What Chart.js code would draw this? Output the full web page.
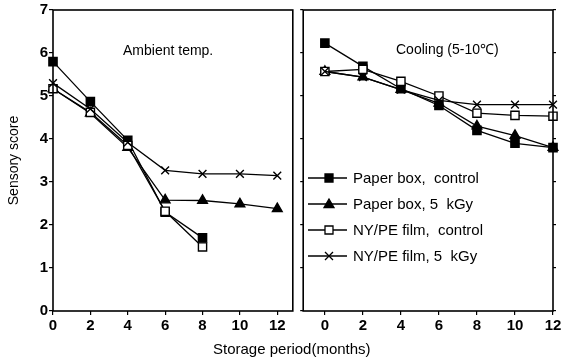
<!DOCTYPE html>
<html>
<head>
<meta charset="utf-8">
<script src="https://cdn.jsdelivr.net/npm/chart.js@4"></script>
<style>
  body { margin: 0; background: #fff; width: 564px; height: 358px; position: relative; overflow: hidden;
         font-family: "Liberation Sans", Arial, sans-serif; }
  canvas { position: absolute; top: 0; }
  #left { left: 0; }
  #right { left: 296px; }
  .lbl { position: absolute; color: #000; white-space: nowrap; font-size: 14px; }
</style>
</head>
<body>
<canvas id="left" width="300" height="358"></canvas>
<canvas id="right" width="268" height="358"></canvas>
<div class="lbl" style="left:123px;top:42px">Ambient temp.</div>
<div class="lbl" style="left:396px;top:39px">Cooling (5-10℃)</div>
<div class="lbl" style="left:213px;top:340px;font-size:15px">Storage period(months)</div>
<script>
const months = [0, 2, 4, 6, 8, 10, 12];
const monthTicks = [0, 2, 4, 6, 8, 10, 12];
const scoreTicks = [0, 1, 2, 3, 4, 5, 6, 7];
const seriesNames = ['Paper box,  control', 'Paper box, 5  kGy', 'NY/PE film,  control', 'NY/PE film, 5  kGy'];

// ambient temp.
const ambientPaperControl = [5.8, 4.87, 3.97, 2.3, 1.7, null, null];
const ambientPaper5kGy   = [5.17, 4.6, 3.8, 2.58, 2.57, 2.49, 2.38];
const ambientFilmControl = [5.17, 4.62, 3.85, 2.32, 1.49, null, null];
const ambientFilm5kGy    = [5.3, 4.7, 3.92, 3.27, 3.19, 3.19, 3.15];

// cooling (5-10 C)
const coolingPaperControl = [6.23, 5.69, 5.17, 4.78, 4.2, 3.9, 3.8];
const coolingPaper5kGy    = [5.57, 5.44, 5.15, 4.83, 4.3, 4.08, 3.8];
const coolingFilmControl  = [5.57, 5.62, 5.34, 5.0, 4.6, 4.55, 4.53];
const coolingFilm5kGy     = [5.57, 5.44, 5.15, 4.9, 4.8, 4.8, 4.8];

const styles = [
    { pointStyle: 'rect', pointRadius: 5.8, pointBackgroundColor: '#000' },
    { pointStyle: 'triangle', pointRadius: 5.6, pointBackgroundColor: '#000' },
    { pointStyle: 'rect', pointRadius: 5.8, pointBackgroundColor: '#fff' },
    { pointStyle: 'crossRot', pointRadius: 5.5, pointBackgroundColor: '#000' }
];

function makeDatasets(list) {
    return list.map((vals, i) => ({
        label: seriesNames[i],
        data: months.map((m, j) => ({ x: m, y: vals[j] })).filter(p => p.y !== null),
        borderColor: '#000',
        borderWidth: 1.3,
        pointBorderColor: '#000',
        pointBorderWidth: 1.4,
        clip: false,
        ...styles[i]
    })).reverse(); // draw filled square on top
}

// box round each panel
const framePlugin = {
    id: 'frame',
    afterDraw(chart) {
        const { ctx, chartArea: a } = chart;
        ctx.save();
        ctx.strokeStyle = '#000';
        ctx.lineWidth = 1.6;
        ctx.strokeRect(a.left, a.top, a.right - a.left, a.bottom - a.top);
        ctx.restore();
    }
};

function drawMarker(ctx, style, x, y, fill) {
    ctx.beginPath();
    if (style === 'rect') {
        ctx.rect(x - 4, y - 4, 8, 8);
    } else if (style === 'triangle') {
        ctx.moveTo(x, y - 5);
        ctx.lineTo(x + 5, y + 3.5);
        ctx.lineTo(x - 5, y + 3.5);
        ctx.closePath();
    } else {
        ctx.moveTo(x - 4, y - 4); ctx.lineTo(x + 4, y + 4);
        ctx.moveTo(x + 4, y - 4); ctx.lineTo(x - 4, y + 4);
        ctx.stroke();
        return;
    }
    ctx.fillStyle = fill;
    ctx.fill();
    ctx.stroke();
}

const legendPlugin = {
    id: 'lineLegend',
    afterDraw(chart) {
        const ctx = chart.ctx;
        ctx.save();
        ctx.strokeStyle = '#000';
        ctx.lineWidth = 1.3;
        ctx.font = '15px "Liberation Sans", Arial, sans-serif';
        ctx.textBaseline = 'middle';
        seriesNames.forEach((name, i) => {
            const y = 178 + i * 26;
            ctx.beginPath();
            ctx.moveTo(12, y); ctx.lineTo(51, y);
            ctx.stroke();
            drawMarker(ctx, styles[i].pointStyle, 33, y, styles[i].pointBackgroundColor);
            ctx.fillStyle = '#000';
            ctx.fillText(name, 57, y + 1);
        });
        ctx.restore();
    }
};

const tickFont = { family: '"Liberation Sans", Arial, sans-serif', size: 15, weight: 'bold' };

function xAxis(min, max) {
    return {
        type: 'linear', min: min, max: max,
        afterBuildTicks: axis => { axis.ticks = monthTicks.map(v => ({ value: v })); },
        afterFit: axis => { axis.height = 47; },
        grid: { drawOnChartArea: false, tickLength: 4, color: '#000', lineWidth: 1.2 },
        border: { display: false },
        ticks: { color: '#000', font: tickFont, padding: 2, maxRotation: 0 }
    };
}

function yAxis(width, showLabels, position) {
    return {
        type: 'linear', min: 0, max: 7, position: position,
        afterBuildTicks: axis => { axis.ticks = scoreTicks.map(v => ({ value: v })); },
        afterFit: axis => { axis.width = width; },
        grid: { drawOnChartArea: false, tickLength: showLabels ? 4 : 3, color: '#000', lineWidth: 1.2 },
        border: { display: false },
        ticks: { display: showLabels, color: '#000', font: tickFont, padding: 1 },
        title: {
            display: showLabels, text: 'Sensory score', color: '#000',
            font: { family: '"Liberation Sans", Arial, sans-serif', size: 14 },
            padding: { top: 6, bottom: 0 }
        }
    };
}

const common = {
    responsive: false,
    animation: false,
    plugins: { legend: { display: false }, tooltip: { enabled: false } }
};

new Chart(document.getElementById('left'), {
    type: 'line',
    data: { datasets: makeDatasets([ambientPaperControl, ambientPaper5kGy, ambientFilmControl, ambientFilm5kGy]) },
    options: {
        ...common,
        layout: { padding: { top: 10, right: 0, left: 0, bottom: 0 } },
        scales: { x: xAxis(0, 12.83), y: yAxis(53, true, 'left') }
    },
    plugins: [framePlugin]
});

new Chart(document.getElementById('right'), {
    type: 'line',
    data: { datasets: makeDatasets([coolingPaperControl, coolingPaper5kGy, coolingFilmControl, coolingFilm5kGy]) },
    options: {
        ...common,
        layout: { padding: { top: 10, right: 8, left: 0, bottom: 0 } },
        scales: { x: xAxis(-1.14, 12), y: yAxis(4, false, 'left'), y2: yAxis(3, false, 'right') }
    },
    plugins: [framePlugin, legendPlugin]
});
</script>
</body>
</html>
